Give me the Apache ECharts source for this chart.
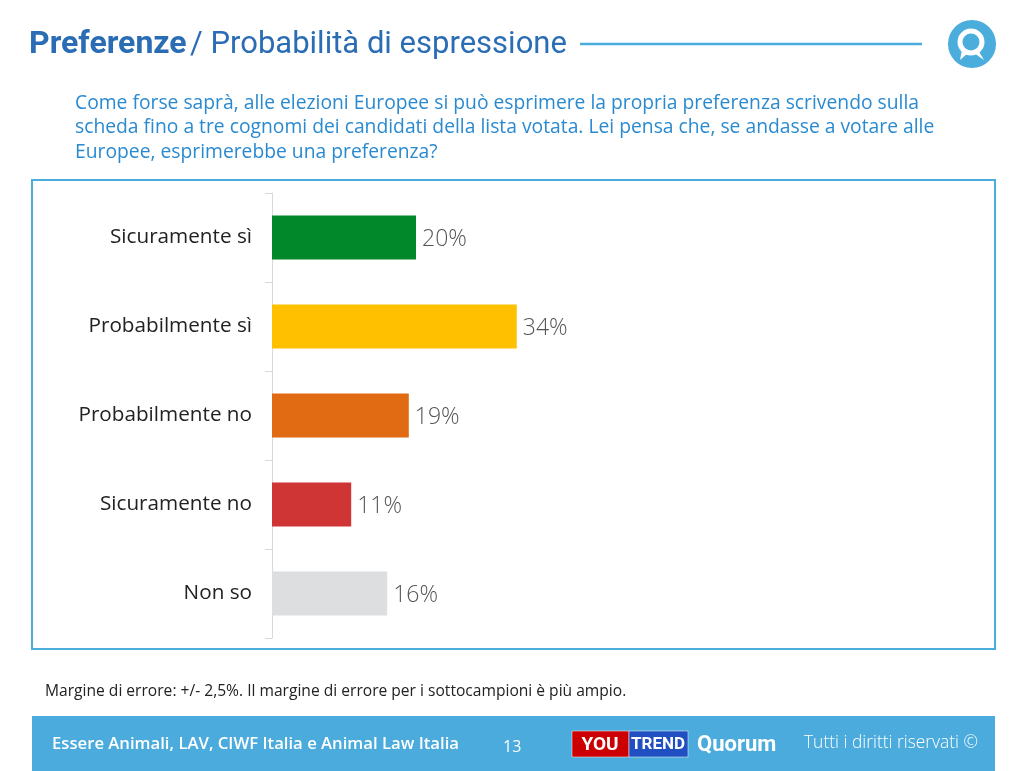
<!DOCTYPE html>
<html><head><meta charset="utf-8">
<script src="https://cdn.jsdelivr.net/npm/echarts@6/dist/echarts.min.js"></script>
<style>html,body{margin:0;padding:0;background:#fff}#c{width:1024px;height:771px}</style>
</head><body><div id="c"></div>
<script>
const categories = ['Sicuramente sì','Probabilmente sì','Probabilmente no','Sicuramente no','Non so'];
const values = [20, 34, 19, 11, 16];
const barColors = ['#00882b','#ffc000','#e06b12','#d03535','#dcdee0'];
const titleBold = 'Preferenze';
const titleRest = '/ Probabilità di espressione';
const questionLines = [
  'Come forse saprà, alle elezioni Europee si può esprimere la propria preferenza scrivendo sulla',
  'scheda fino a tre cognomi dei candidati della lista votata. Lei pensa che, se andasse a votare alle',
  'Europee, esprimerebbe una preferenza?'
];
const footnote = 'Margine di errore: +/- 2,5%. Il margine di errore per i sottocampioni è più ampio.';
const footerLeft = 'Essere Animali, LAV, CIWF Italia e Animal Law Italia';
const pageNum = '13';
const rights = 'Tutti i diritti riservati ©';

const chart = echarts.init(document.getElementById('c'));
const FONT = '"Open Sans", Roboto, sans-serif';
const TFONT = 'Roboto, sans-serif';
chart.setOption({
  animation: false,
  grid: {left: 272, top: 193, width: 720, height: 445, containLabel: false},
  xAxis: {type: 'value', min: 0, max: 100, show: false},
  yAxis: {
    type: 'category', data: categories, inverse: true,
    axisLine: {show: true, lineStyle: {color: '#d9d9d9', width: 1}},
    axisTick: {show: true, length: 7, alignWithLabel: false, lineStyle: {color: '#d9d9d9'}},
    axisLabel: {color: '#222', fontSize: 20.7, margin: 20, fontFamily: FONT, padding: [4, 0, 0, 0]}
  },
  series: [{
    type: 'bar', barWidth: 44,
    data: values.map((v, i) => ({value: v, itemStyle: {color: barColors[i]}})),
    label: {show: true, position: 'right', distance: 6, offset: [0, 2], formatter: '{c}%', color: '#555', fontSize: 23, fontWeight: 300, fontFamily: FONT}
  }],
  graphic: [
    {type: 'rect', shape: {x: 32, y: 180, width: 963, height: 469}, style: {fill: 'none', stroke: '#4aaddc', lineWidth: 2}, z: -1},
    {type: 'text', left: 29, top: 29, style: {
      rich: {b: {font: 'bold 32px ' + TFONT, fill: '#2a6db5'}, r: {font: '31px ' + TFONT, fill: '#2a6db5'}},
      text: '{b|' + titleBold + '} {r|' + titleRest + '}'}},
    {type: 'line', shape: {x1: 580, y1: 44, x2: 922, y2: 44}, style: {stroke: '#4aaddc', lineWidth: 2.5}},
    {type: 'circle', shape: {cx: 972, cy: 44, r: 24}, style: {fill: '#4aaddc'}},
    {type: 'circle', shape: {cx: 971, cy: 42, r: 11}, style: {fill: 'none', stroke: '#fff', lineWidth: 5}},
    {type: 'polygon', shape: {points: [[962,50],[960,60],[968,53]]}, style: {fill: '#fff'}},
    {type: 'polygon', shape: {points: [[978,50],[984,60],[974,53]]}, style: {fill: '#fff'}},
    {type: 'text', left: 75, top: 91, style: {text: questionLines.join('\n'), font: '19.3px ' + FONT, fill: '#2a8ad0', lineHeight: 24.5}},
    {type: 'text', left: 45, top: 684, style: {text: footnote, font: '15.6px ' + FONT, fill: '#222'}},
    {type: 'rect', shape: {x: 32, y: 716, width: 963, height: 55}, style: {fill: '#4aabdc'}},
    {type: 'text', left: 52, top: 736, style: {text: footerLeft, font: '600 16.7px ' + FONT, fill: '#fff'}},
    {type: 'text', left: 503, top: 739, style: {text: pageNum, font: '16px ' + FONT, fill: '#fff'}},
    {type: 'rect', shape: {x: 572, y: 731, width: 57, height: 26}, style: {fill: '#cc0000', stroke: '#fff', lineWidth: 0.5}},
    {type: 'rect', shape: {x: 629, y: 731, width: 59, height: 26}, style: {fill: '#1f4fc0', stroke: '#fff', lineWidth: 0.5}},
    {type: 'text', x: 600, y: 745, style: {text: 'YOU', font: 'bold 19px ' + TFONT, fill: '#fff', align: 'center', verticalAlign: 'middle'}},
    {type: 'text', x: 658, y: 745, style: {text: 'TREND', font: 'bold 17px ' + TFONT, fill: '#fff', align: 'center', verticalAlign: 'middle'}},
    {type: 'text', left: 697, top: 734, style: {text: 'Quorum', font: 'bold 22px ' + TFONT, fill: '#fff'}},
    {type: 'text', left: 804, top: 735, style: {text: rights, font: '300 17.4px ' + FONT, fill: '#fff'}}
  ]
});
</script></body></html>
